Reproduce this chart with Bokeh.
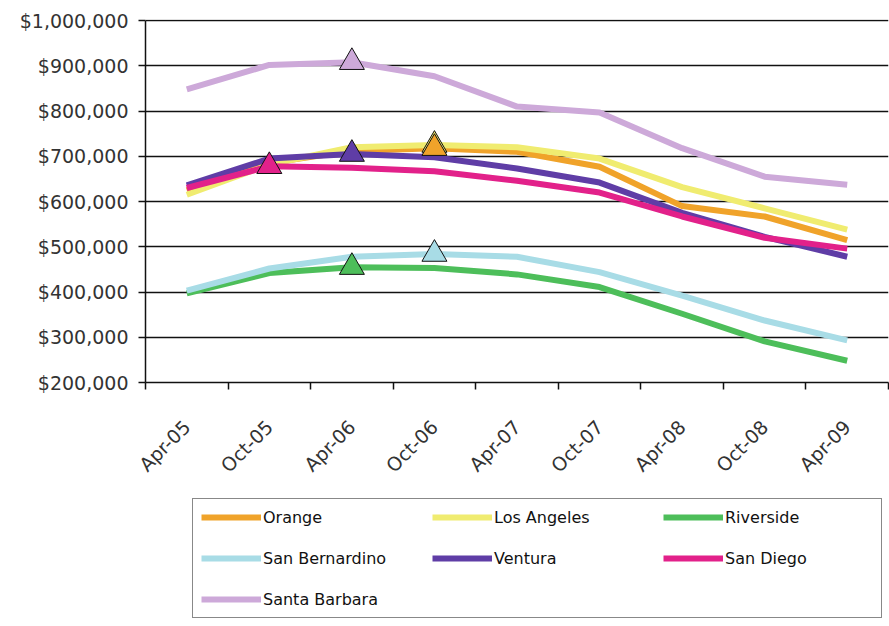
import math
from bokeh.plotting import figure
from bokeh.layouts import column
from bokeh.models import (FactorRange, Range1d, LinearAxis, FixedTicker,
                          NumeralTickFormatter, Legend, LegendItem)
from bokeh.embed import file_html
from bokeh.resources import INLINE

categories = ["Apr-05", "Oct-05", "Apr-06", "Oct-06", "Apr-07", "Oct-07", "Apr-08", "Oct-08", "Apr-09"]

orange         = [625000, 685000, 712000, 718000, 710000, 677000, 590000, 567000, 515000]
los_angeles    = [615000, 682000, 720000, 725000, 720000, 695000, 632000, 585000, 538000]
riverside      = [397000, 442000, 455000, 453000, 439000, 411000, 352000, 291000, 248000]
san_bernardino = [403000, 452000, 478000, 484000, 478000, 444000, 392000, 337000, 293000]
ventura        = [636000, 695000, 705000, 698000, 673000, 642000, 575000, 522000, 478000]
san_diego      = [630000, 678000, 675000, 667000, 646000, 620000, 567000, 520000, 496000]
santa_barbara  = [848000, 902000, 908000, 877000, 810000, 797000, 718000, 655000, 637000]

series_names = ["Orange", "Los Angeles", "Riverside", "San Bernardino", "Ventura", "San Diego", "Santa Barbara"]
series_values = [orange, los_angeles, riverside, san_bernardino, ventura, san_diego, santa_barbara]
series_colors = ["#F0A32A", "#F0EC70", "#4DBE5A", "#A8DCE6", "#5F3DA6", "#E2218A", "#CDA9D9"]

y_start, y_end = 200000, 1000000
FONT = "DejaVu Sans"

p = figure(width=889, height=495,
           x_range=FactorRange(factors=categories),
           y_range=Range1d(y_start, y_end + 2500),
           x_axis_location=None,
           output_backend="svg", toolbar_location=None,
           min_border_left=145, min_border_right=1, min_border_top=19, min_border_bottom=113)
p.outline_line_color = None
p.background_fill_color = "white"
p.border_fill_color = "white"
p.xgrid.visible = False
p.ygrid.grid_line_color = "#111111"
p.ygrid.grid_line_width = 1.5

# y axis
yax = p.yaxis[0]
yax.ticker = FixedTicker(ticks=list(range(y_start, y_end + 1, 100000)))
yax.formatter = NumeralTickFormatter(format="$0,0")
yax.bounds = (y_start, y_end)
yax.axis_line_color = "#111111"
yax.axis_line_width = 1.5
yax.major_tick_line_color = "#111111"
yax.major_tick_line_width = 1.5
yax.major_tick_out = 7
yax.major_tick_in = 0
yax.minor_tick_line_color = None
yax.major_label_text_font = FONT
yax.major_label_text_font_size = "19px"
yax.major_label_text_color = "#333333"
yax.major_label_standoff = 10

# x axis: labels centred in each category, tick marks between categories
n = len(categories)
centers = [i + 0.5 for i in range(n)]
xax = LinearAxis(ticker=FixedTicker(ticks=centers, minor_ticks=list(range(n + 1))),
                 major_label_overrides={c: lab for c, lab in zip(centers, categories)})
xax.axis_line_color = "#111111"
xax.axis_line_width = 1.5
xax.major_tick_out = 0
xax.major_tick_in = 0
xax.minor_tick_out = 7
xax.minor_tick_in = 0
xax.minor_tick_line_color = "#111111"
xax.minor_tick_line_width = 1.5
xax.major_label_orientation = math.pi / 4
xax.major_label_text_font = FONT
xax.major_label_text_font_size = "19px"
xax.major_label_text_color = "#333333"
xax.major_label_standoff = 34
p.add_layout(xax, "below")

for name, vals, col in zip(series_names, series_values, series_colors):
    p.line(x=categories, y=vals, line_color=col, line_width=6, line_join="round")

# peak markers (triangle at each series' maximum)
for name in ["Los Angeles", "Orange", "Santa Barbara", "Ventura", "San Diego", "San Bernardino", "Riverside"]:
    i = series_names.index(name)
    vals = series_values[i]
    k = vals.index(max(vals))
    p.scatter(x=[categories[k]], y=[vals[k]], marker="triangle", size=25,
              fill_color=series_colors[i], line_color="#111111", line_width=1)

# legend panel below the chart (same series, legend only; the y range keeps the lines out of view)
q = figure(width=889, height=131,
           x_range=FactorRange(factors=categories), y_range=Range1d(0, 1),
           x_axis_location=None, y_axis_location=None,
           output_backend="svg", toolbar_location=None,
           min_border_left=0, min_border_right=0, min_border_top=0, min_border_bottom=0)
q.outline_line_color = None
q.xgrid.visible = False
q.ygrid.visible = False
items = []
for name, vals, col in zip(series_names, series_values, series_colors):
    r = q.line(x=categories, y=vals, line_color=col, line_width=6)
    items.append(LegendItem(label=name, renderers=[r]))

legend = Legend(items=items, orientation="horizontal", ncols=3, location=(47, 8))
legend.label_text_font = FONT
legend.label_text_font_size = "16px"
legend.label_text_color = "#111111"
legend.label_height = 20
legend.label_width = 148
legend.glyph_height = 20
legend.glyph_width = 60
legend.label_standoff = 2
legend.spacing = 21
legend.padding = 8
legend.margin = 0
legend.border_line_color = "#111111"
legend.border_line_width = 1.5
legend.background_fill_color = "white"
legend.background_fill_alpha = 1.0
q.add_layout(legend, "center")

layout = column(p, q, spacing=0)
open("out.html", "w").write(file_html(layout, INLINE))
